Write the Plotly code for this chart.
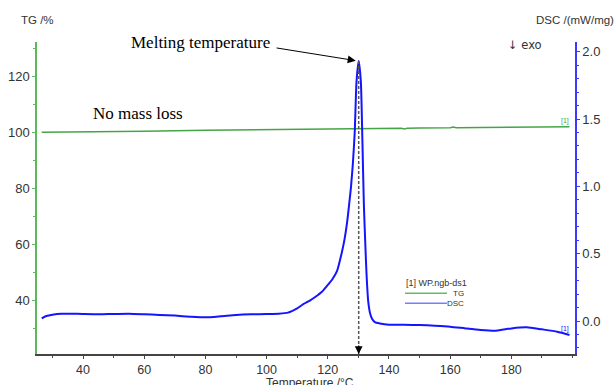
import numpy as np
import plotly.graph_objects as go

# ---- data ----
dsc_temp = [26.5, 28, 30, 33, 36, 40, 45, 50, 55, 60, 65, 70, 75, 80, 85, 90, 95, 100,
            104, 107, 110, 112, 114, 116, 118, 120, 121.5, 123, 124.5, 125.5, 126.3, 127,
            127.6, 128.2, 128.8, 129.4, 130.1, 130.8, 131.3, 131.8, 132.3, 132.7, 133.2,
            133.8, 134.5, 135.5, 137, 140, 145, 150, 155, 160, 165, 170, 175, 180, 185,
            190, 195, 199]
dsc_vals = [0.02, 0.037, 0.047, 0.054, 0.054, 0.052, 0.05, 0.052, 0.054, 0.05, 0.045, 0.04,
            0.032, 0.027, 0.035, 0.045, 0.05, 0.052, 0.054, 0.062, 0.094, 0.125, 0.15, 0.18,
            0.215, 0.268, 0.31, 0.37, 0.5, 0.61, 0.73, 0.87, 1.0, 1.17, 1.4, 1.78, 1.93,
            1.78, 1.35, 0.86, 0.55, 0.33, 0.15, 0.06, 0.015, -0.01, -0.018, -0.027, -0.028,
            -0.03, -0.035, -0.042, -0.055, -0.067, -0.072, -0.055, -0.047, -0.062, -0.079,
            -0.104]

tg_temp = [26.5, 40, 60, 80, 100, 120, 130, 140, 144, 145, 146, 150, 160, 161, 162,
           170, 180, 190, 199]
tg_vals = [100.0, 100.1, 100.4, 100.7, 101.0, 101.2, 101.3, 101.4, 101.45, 101.2, 101.45,
           101.5, 101.6, 101.9, 101.65, 101.7, 101.8, 101.9, 102.0]

x_ticks = [40, 60, 80, 100, 120, 140, 160, 180]
tg_ticks = [40, 60, 80, 100, 120]
dsc_ticks = [0.0, 0.5, 1.0, 1.5, 2.0]

TG_COLOR = "#45a545"
TG_AXIS = "#5cb85c"
DSC_COLOR = "#1414ff"
DSC_AXIS = "#3a3aff"
TXT = "#333333"

W, H = 616, 385
ML, MR, MT, MB = 37, 41, 42, 31
PW, PH = W - ML - MR, H - MT - MB


def px(xp):
    return (xp - ML) / PW


def py(yp):
    return (H - MB - yp) / PH


def label(text, x, y, size, family="Liberation Sans", color=TXT, xanchor="center"):
    return dict(text=text, x=px(x), y=py(y), xref="paper", yref="paper",
                xanchor=xanchor, yanchor="middle", showarrow=False,
                font=dict(size=size, color=color, family=family))


fig = go.Figure()
fig.add_trace(go.Scatter(x=tg_temp, y=tg_vals, mode="lines", name="TG",
                         line=dict(color=TG_COLOR, width=1.5), yaxis="y"))
fig.add_trace(go.Scatter(x=dsc_temp, y=dsc_vals, mode="lines", name="DSC",
                         line=dict(color=DSC_COLOR, width=2, shape="spline", smoothing=0.6),
                         yaxis="y2"))

i_pk = int(np.argmax(dsc_vals))
pk_t, pk_v = dsc_temp[i_pk], dsc_vals[i_pk]
x_range = [24.96, 200.8]
y2_range = [-0.245, 2.072]

ann = [
    label("TG /%", 37.5, 20, 11.5),
    label("DSC /(mW/mg)", 575, 20, 11.5),
    label("↓ exo", 506, 45, 11.5, family="DejaVu Sans", xanchor="left"),
    label("Temperature /°C", 310, 383.5, 12),
    label("No mass loss", 138, 113.5, 17, family="Liberation Serif", color="black"),
    label("Melting temperature", 200, 42.5, 17, family="Liberation Serif", color="black"),
    label("[1] WP.ngb-ds1", 404, 282.7, 9, xanchor="left"),
    label("TG", 466, 293.3, 8, xanchor="right"),
    label("DSC", 466, 303.3, 8, xanchor="right"),
]
# arrow to the peak
ann.append(dict(text="", x=pk_t, y=pk_v, xref="x", yref="y2",
                ax=x_range[0] + (275 - ML) / 3.059, ay=(321 - 47.7) / 134.65,
                axref="x", ayref="y2", showarrow=True, arrowhead=2, arrowsize=1.6,
                arrowwidth=1, arrowcolor="black", standoff=3))
# arrowhead at the bottom of the dashed line
ann.append(dict(text="", x=pk_t, y=y2_range[0], xref="x", yref="y2",
                ax=0, ay=-10, showarrow=True, arrowhead=2, arrowsize=1.3,
                arrowwidth=1.2, arrowcolor="black", standoff=0))
# [1] labels at curve ends
ann.append(dict(text="[1]", x=tg_temp[-1], y=tg_vals[-1], xref="x", yref="y",
                xanchor="right", yanchor="bottom", showarrow=False, xshift=2,
                font=dict(size=7, color=TG_COLOR, family="Liberation Sans")))
ann.append(dict(text="[1]", x=dsc_temp[-1], y=dsc_vals[-1], xref="x", yref="y2",
                xanchor="right", yanchor="bottom", showarrow=False, xshift=2,
                font=dict(size=7, color=DSC_COLOR, family="Liberation Sans")))

shapes = [
    dict(type="line", xref="x", yref="y2", x0=pk_t, x1=pk_t, y0=pk_v, y1=y2_range[0],
         line=dict(color="#555555", width=1.5, dash="3px,2px")),
    dict(type="line", xref="paper", yref="paper", x0=px(405), x1=px(447),
         y0=py(293.3), y1=py(293.3), line=dict(color="#66bb66", width=1.5)),
    dict(type="line", xref="paper", yref="paper", x0=px(405), x1=px(447),
         y0=py(303.3), y1=py(303.3), line=dict(color="#7b7bff", width=1.5)),
]

fig.update_layout(
    width=W, height=H,
    margin=dict(l=ML, r=MR, t=MT, b=MB, pad=0, autoexpand=False),
    paper_bgcolor="white", plot_bgcolor="white",
    showlegend=False,
    font=dict(family="Liberation Sans", color=TXT, size=12),
    xaxis=dict(range=x_range, tickvals=x_ticks, showgrid=False, zeroline=False,
               showline=True, linecolor="#444444", linewidth=1.5,
               ticks="outside", ticklen=3, tickcolor="#444444", automargin=False,
               minor=dict(dtick=10, tick0=0, ticks="outside", ticklen=2,
                          tickcolor="#444444"),
               tickfont=dict(size=12.5, color=TXT)),
    yaxis=dict(range=[20.7, 132.3], tickvals=tg_ticks, showgrid=False, zeroline=False,
               showline=True, linecolor=TG_AXIS, linewidth=1.5, automargin=False,
               ticks="outside", ticklen=3, tickcolor=TG_AXIS,
               minor=dict(dtick=10, tick0=0, ticks="outside", ticklen=2, tickcolor=TG_AXIS),
               tickfont=dict(size=13, color=TXT)),
    yaxis2=dict(range=y2_range, tickvals=dsc_ticks, tickformat=".1f", overlaying="y",
                side="right", anchor="x", showgrid=False, zeroline=False,
                showline=True, linecolor=DSC_AXIS, linewidth=1.5, automargin=False,
                ticks="outside", ticklen=3, tickcolor=DSC_AXIS,
                minor=dict(dtick=0.1, tick0=0, ticks="outside", ticklen=2,
                           tickcolor=DSC_AXIS),
                tickfont=dict(size=13, color=TXT)),
    annotations=ann,
    shapes=shapes,
)

fig.write_html("out.html", config={"displayModeBar": False},
               post_script="document.body.style.margin='0px';document.body.style.overflow='hidden';")
